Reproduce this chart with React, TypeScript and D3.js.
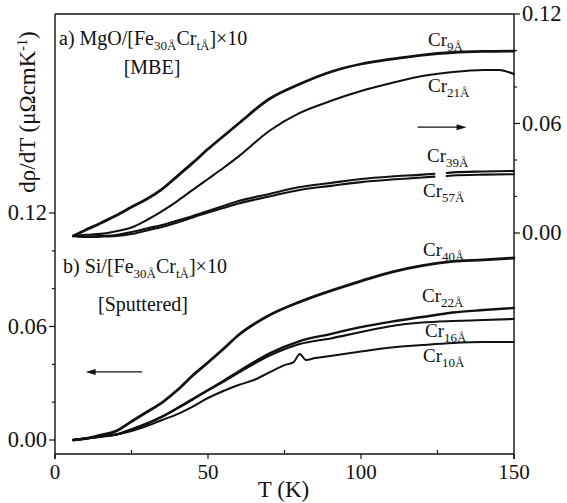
import React from "react";
import * as d3 from "d3";

// ---------- data ----------
const tempGrid = [6, 10, 15, 20, 25, 30, 35, 40, 45, 50, 55, 60, 70, 80, 90, 100, 110, 120, 130, 140, 150];
const tempEnd = [6, 10, 15, 20, 25, 30, 35, 40, 45, 50, 55, 60, 70, 80, 90, 100, 110, 120, 130, 140, 145, 150];
const tempGap = [6, 10, 15, 20, 25, 30, 35, 40, 45, 50, 55, 60, 70, 80, 90, 100, 110, 120, 124, 126, 128, 130, 140, 150];
const tempSpike = [6, 10, 15, 20, 25, 30, 35, 40, 45, 50, 55, 60, 65, 70, 75, 78, 80, 82, 85, 90, 100, 110, 120, 130, 140, 150];

// panel a (right axis)
const cr9 = [-0.0016, 0.0016, 0.0055, 0.0096, 0.0142, 0.0186, 0.0241, 0.0312, 0.0384, 0.046, 0.053, 0.06, 0.0734, 0.0816, 0.0882, 0.0926, 0.0953, 0.0975, 0.0989, 0.0995, 0.0997];
const cr21 = [-0.0016, -0.001, -0.0005, 0.001, 0.003, 0.0071, 0.012, 0.0175, 0.0236, 0.0296, 0.0356, 0.042, 0.0559, 0.0658, 0.0723, 0.0778, 0.0822, 0.086, 0.0882, 0.0893, 0.0893, 0.0871];
const cr39 = [-0.0016, -0.0019, -0.0016, -0.0011, 0.0005, 0.0025, 0.0044, 0.0068, 0.0093, 0.012, 0.0148, 0.0175, 0.0214, 0.0252, 0.0274, 0.0296, 0.031, 0.032, 0.0325, NaN, 0.0329, 0.0332, 0.0337, 0.034];
const cr57 = [-0.0016, -0.0022, -0.002, -0.0016, -0.0005, 0.0014, 0.0033, 0.0057, 0.0085, 0.0112, 0.0137, 0.0162, 0.02, 0.0236, 0.0258, 0.0279, 0.0293, 0.0304, 0.0309, NaN, 0.0312, 0.0315, 0.032, 0.0322];

// panel b (left axis)
const cr40 = [0, 0.0007, 0.0026, 0.0048, 0.0098, 0.0148, 0.0198, 0.0264, 0.0341, 0.041, 0.0481, 0.0555, 0.0659, 0.073, 0.0788, 0.084, 0.0888, 0.0922, 0.0944, 0.0952, 0.0962];
const cr22 = [0, 0.0008, 0.0018, 0.0029, 0.0056, 0.0087, 0.0124, 0.0169, 0.0217, 0.0264, 0.0312, 0.0362, 0.0457, 0.0523, 0.056, 0.0597, 0.0626, 0.065, 0.0674, 0.0687, 0.0698];
const cr16 = [0, 0.0008, 0.0018, 0.0029, 0.0056, 0.0087, 0.0123, 0.0167, 0.0214, 0.0262, 0.0308, 0.0356, 0.0445, 0.0507, 0.0537, 0.0571, 0.0603, 0.0621, 0.0629, 0.0634, 0.064];
const cr10 = [0, 0.0008, 0.0018, 0.0029, 0.0048, 0.0074, 0.0106, 0.0137, 0.0177, 0.0222, 0.0259, 0.0291, 0.0317, 0.0357, 0.0396, 0.0412, 0.0455, 0.0423, 0.0433, 0.0444, 0.0468, 0.0489, 0.0502, 0.0513, 0.0518, 0.0518];

const xTicksMajor = [0, 50, 100, 150];
const xTicksMinor = [25, 75, 125];
const yTicksMajor = [0, 0.06, 0.12];
const yTicksMinor = [0.02, 0.04, 0.08, 0.1];

const FONT = '"Liberation Serif", "Times New Roman", "DejaVu Serif", serif';

export default function App() {
  const W = 567;
  const H = 503;
  const left = 55, right = 514, top = 14, bottom = 454;

  const x = d3.scaleLinear().domain([0, 150]).range([left, right]);
  const yL = d3.scaleLinear().domain([0, 0.12]).range([440, 213]);
  const yR = d3.scaleLinear().domain([0, 0.12]).range([233, top]);

  const mk = (ts: number[], vs: number[], y: d3.ScaleLinear<number, number>) => {
    const pts = ts.map((t, i) => [t, vs[i]] as [number, number]);
    return d3
      .line<[number, number]>()
      .defined((d) => !isNaN(d[1]))
      .x((d) => x(d[0]))
      .y((d) => y(d[1]))
      .curve(d3.curveMonotoneX)(pts) as string;
  };

  const series = [
    { d: mk(tempGrid, cr9, yR), w: 2.8 },
    { d: mk(tempEnd, cr21, yR), w: 2.1 },
    { d: mk(tempGap, cr39, yR), w: 2.1 },
    { d: mk(tempGap, cr57, yR), w: 2.1 },
    { d: mk(tempGrid, cr40, yL), w: 2.8 },
    { d: mk(tempGrid, cr22, yL), w: 2.4 },
    { d: mk(tempGrid, cr16, yL), w: 2.1 },
    { d: mk(tempSpike, cr10, yL), w: 2.0 },
  ];

  const txt = { fontFamily: FONT };

  const crLabel = (px: number, py: number, sub: string) => (
    <text x={px} y={py} fontSize={19} style={txt} fill="#111">
      Cr
      <tspan dy={5} fontSize={13}>
        {sub}
      </tspan>
    </text>
  );

  const fmt = d3.format(".2f");

  const ax1 = x(118.5), ax2 = x(134.5), ay = yR(0.058);
  const bx1 = x(28.5), bx2 = x(10), by = yL(0.036);

  return (
    <svg
      width={W}
      height={H}
      style={{ position: "absolute", left: 0, top: 0, background: "#fff", fontFamily: FONT }}
    >
      <rect x={0} y={0} width={W} height={H} fill="#fff" />
      {/* frame */}
      <g stroke="#111" strokeWidth={1.4} fill="none">
        <line x1={left} y1={top} x2={right} y2={top} />
        <line x1={left} y1={top} x2={left} y2={bottom + 5} />
        <line x1={right} y1={top} x2={right} y2={bottom + 5} />
        <line x1={left} y1={bottom} x2={right} y2={bottom} />
      </g>
      {/* ticks */}
      <g stroke="#111" strokeWidth={1.2}>
        {xTicksMajor.map((t) => (
          <line key={"xm" + t} x1={x(t)} x2={x(t)} y1={bottom} y2={bottom + 5} />
        ))}
        {xTicksMinor.map((t) => (
          <line key={"xn" + t} x1={x(t)} x2={x(t)} y1={bottom} y2={bottom - 4} />
        ))}
        {yTicksMajor.map((v) => (
          <line key={"ylm" + v} x1={left} x2={left - 6} y1={yL(v)} y2={yL(v)} />
        ))}
        {yTicksMinor.map((v) => (
          <line key={"yln" + v} x1={left} x2={left - 3} y1={yL(v)} y2={yL(v)} />
        ))}
        {yTicksMajor.map((v) => (
          <line key={"yrm" + v} x1={right} x2={right + 6} y1={yR(v)} y2={yR(v)} />
        ))}
        {yTicksMinor.map((v) => (
          <line key={"yrn" + v} x1={right} x2={right + 3} y1={yR(v)} y2={yR(v)} />
        ))}
      </g>
      {/* tick labels */}
      <g fill="#111" style={txt}>
        {xTicksMajor.map((t) => (
          <text key={"xl" + t} x={x(t)} y={bottom + 25} fontSize={21} textAnchor="middle" style={txt}>
            {t}
          </text>
        ))}
        {yTicksMajor.map((v) => (
          <text key={"yll" + v} x={left - 8} y={yL(v) + 7} fontSize={22.5} textAnchor="end" style={txt}>
            {fmt(v)}
          </text>
        ))}
        {yTicksMajor.map((v) => (
          <text key={"yrl" + v} x={right + 8} y={yR(v) + 7} fontSize={22.5} textAnchor="start" style={txt}>
            {fmt(v)}
          </text>
        ))}
      </g>
      {/* axis titles */}
      <text x={(left + right) / 2 - 1} y={497} fontSize={23} textAnchor="middle" fill="#111" style={txt}>
        T (K)
      </text>
      <text transform="translate(35,112) rotate(-90)" fontSize={23} textAnchor="middle" fill="#111" style={txt}>
        dρ/dT (μΩcmK
        <tspan dy={-8} fontSize={14}>
          -1
        </tspan>
        <tspan dy={8}>)</tspan>
      </text>
      {/* curves */}
      <g fill="none" stroke="#111" strokeLinejoin="round" strokeLinecap="round">
        {series.map((s, i) => (
          <path key={i} d={s.d} strokeWidth={s.w} />
        ))}
      </g>
      {/* panel annotations */}
      <text x={59} y={45} fontSize={20} fill="#111" style={txt}>
        a) MgO/[Fe
        <tspan dy={5} fontSize={13}>30Å</tspan>
        <tspan dy={-5}>Cr</tspan>
        <tspan dy={5} fontSize={13}>tÅ</tspan>
        <tspan dy={-5}>]×10</tspan>
      </text>
      <text x={152} y={74} fontSize={20} textAnchor="middle" fill="#111" style={txt}>
        [MBE]
      </text>
      <text x={63} y={273} fontSize={20} fill="#111" style={txt}>
        b) Si/[Fe
        <tspan dy={5} fontSize={13}>30Å</tspan>
        <tspan dy={-5}>Cr</tspan>
        <tspan dy={5} fontSize={13}>tÅ</tspan>
        <tspan dy={-5}>]×10</tspan>
      </text>
      <text x={143} y={311} fontSize={20} textAnchor="middle" fill="#111" style={txt}>
        [Sputtered]
      </text>
      {/* curve labels */}
      {crLabel(428, 46, "9Å")}
      {crLabel(428, 92, "21Å")}
      {crLabel(427, 162, "39Å")}
      {crLabel(423, 197, "57Å")}
      {crLabel(423, 256, "40Å")}
      {crLabel(422, 302, "22Å")}
      {crLabel(425, 337, "16Å")}
      {crLabel(423, 362, "10Å")}
      {/* arrows */}
      <g stroke="#111" strokeWidth={1.3} fill="#111">
        <line x1={ax1} y1={ay} x2={ax2 - 8} y2={ay} />
        <polygon points={`${ax2},${ay} ${ax2 - 10},${ay - 3} ${ax2 - 10},${ay + 3}`} stroke="none" />
        <line x1={bx1} y1={by} x2={bx2 + 8} y2={by} />
        <polygon points={`${bx2},${by} ${bx2 + 10},${by - 3} ${bx2 + 10},${by + 3}`} stroke="none" />
      </g>
    </svg>
  );
}
